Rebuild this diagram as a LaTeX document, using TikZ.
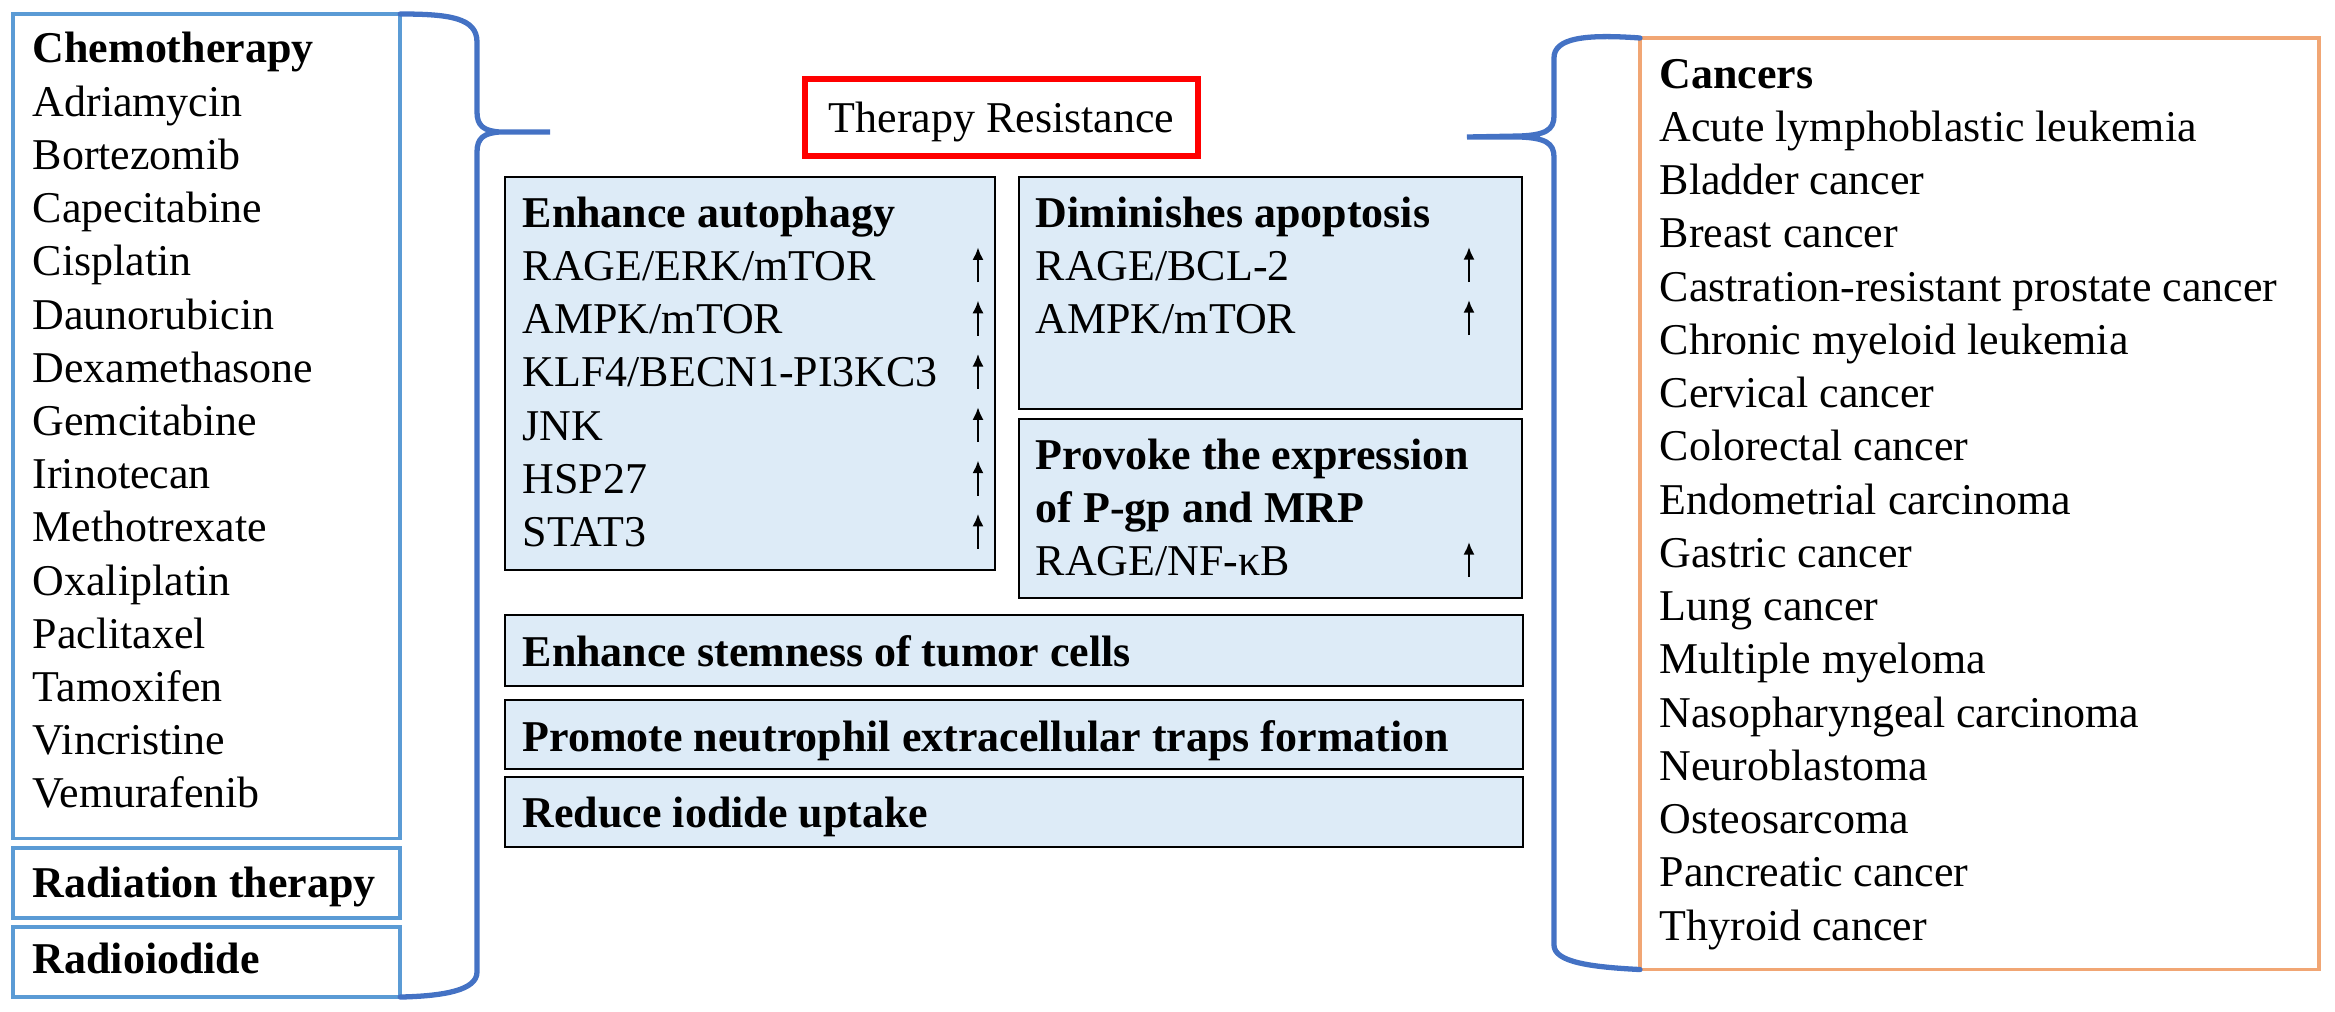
\documentclass[tikz,border=0pt]{standalone}
\usepackage{fontspec}
\setmainfont{Liberation Serif}
\usetikzlibrary{arrows.meta}

\definecolor{boxblue}{RGB}{91,155,213}
\definecolor{braceblue}{RGB}{68,114,196}
\definecolor{lightfill}{RGB}{221,235,247}
\definecolor{cancerorange}{RGB}{241,166,116}

\tikzset{
  txt/.style={anchor=base west, inner sep=0pt, font=\fontsize{12.5}{15}\selectfont},
  head/.style={txt, font=\fontsize{12.5}{15}\selectfont\bfseries},
  frame/.style={anchor=north west, inner sep=0pt, outer sep=0pt},
  therapybox/.style={frame, draw=boxblue, line width=1pt},
  mechbox/.style={frame, fill=lightfill, draw=black, line width=0.6pt},
  brace/.style={draw=braceblue, line width=1.5pt, line cap=round},
  uparrow/.style={-{Latex[length=3.6pt,width=3.2pt]}, line width=0.7pt}
}

\begin{document}
\begin{tikzpicture}[x=0.01cm, y=-0.01cm]
  \useasboundingbox (0,0) rectangle (2335,1012);

  % treatments on the left
  \node[therapybox, minimum width=3.87cm, minimum height=8.24cm] (chemo) at (13,14) {};
  \node[therapybox, minimum width=3.87cm, minimum height=0.70cm] (radiation) at (13,848) {};
  \node[therapybox, minimum width=3.87cm, minimum height=0.70cm] (iodide) at (13,927) {};
  \node[head] (chemohead) at (32,63) {Chemotherapy};
  \foreach \drug [count=\i] in {Adriamycin, Bortezomib, Capecitabine, Cisplatin,
      Daunorubicin, Dexamethasone, Gemcitabine, Irinotecan, Methotrexate,
      Oxaliplatin, Paclitaxel, Tamoxifen, Vincristine, Vemurafenib}
    \node[txt] (drug\i) at (32,{63+53.2*\i}) {\drug};
  \node[head] (radhead) at (32,897) {Radiation therapy};
  \node[head] (iodhead) at (32,973) {Radioiodide};

  % title
  \node[frame, draw=red, line width=1.6pt, minimum width=3.93cm, minimum height=0.77cm,
    text depth=0pt, font=\fontsize{12.5}{15}\selectfont] (resist) at (805,79) {Therapy Resistance};

  % mechanisms
  \node[mechbox, minimum width=4.90cm, minimum height=3.93cm] (autophagy) at (505,177) {};
  \node[mechbox, minimum width=5.03cm, minimum height=2.32cm] (apoptosis) at (1019,177) {};
  \node[mechbox, minimum width=5.03cm, minimum height=1.79cm] (efflux) at (1019,419) {};
  \node[mechbox, minimum width=10.17cm, minimum height=0.71cm] (stemness) at (505,615) {};
  \node[mechbox, minimum width=10.17cm, minimum height=0.69cm] (nets) at (505,700) {};
  \node[mechbox, minimum width=10.17cm, minimum height=0.70cm] (uptake) at (505,777) {};

  \node[head] (autohead) at (522,227) {Enhance autophagy};
  \foreach \route [count=\i] in {RAGE/ERK/mTOR, AMPK/mTOR, KLF4/BECN1-PI3KC3, JNK, HSP27, STAT3} {
    \node[txt] (auto\i) at (522,{227+53.3*\i}) {\route};
    \draw[uparrow] (978,{229+53.3*\i}) -- ++(0,-35);
  }
  \node[head] (apohead) at (1035,227) {Diminishes apoptosis};
  \node[txt] (apo1) at (1035,280) {RAGE/BCL-2};
  \node[txt] (apo2) at (1035,333) {AMPK/mTOR};
  \draw[uparrow] (1469,282) -- ++(0,-35);
  \draw[uparrow] (1469,335) -- ++(0,-35);
  \node[head] (effhead) at (1035,469) {Provoke the expression};
  \node[head] (effhead2) at (1035,522) {of P-gp and MRP};
  \node[txt] (eff1) at (1035,575) {RAGE/NF-κB};
  \draw[uparrow] (1469,577) -- ++(0,-35);
  \node[head] (stemhead) at (522,666) {Enhance stemness of tumor cells};
  \node[head] (netshead) at (522,751) {Promote neutrophil extracellular traps formation};
  \node[head] (uptakehead) at (522,827) {Reduce iodide uptake};

  % cancers on the right
  \node[frame, draw=cancerorange, line width=1.1pt, minimum width=6.79cm, minimum height=9.31cm] (cancers) at (1640,38) {};
  \node[head] (cancerhead) at (1659,88) {Cancers};
  \foreach \tumor [count=\i] in {Acute lymphoblastic leukemia, Bladder cancer, Breast cancer,
      Castration-resistant prostate cancer, Chronic myeloid leukemia, Cervical cancer,
      Colorectal cancer, Endometrial carcinoma, Gastric cancer, Lung cancer,
      Multiple myeloma, Nasopharyngeal carcinoma, Neuroblastoma, Osteosarcoma,
      Pancreatic cancer, Thyroid cancer}
    \node[txt] (tumor\i) at (1659,{88+53.25*\i}) {\tumor};

  % braces
  \coordinate (ltip) at (550,132);
  \coordinate (rtip) at (1467,137);
  \draw[brace] (chemo.north east) .. controls (450,14) and (477,18) .. (477,42) -- (477,112)
    .. controls (477,126) and (484,131) .. (500,132) -- (ltip) -- (500,132)
    .. controls (484,133) and (477,138) .. (477,152) -- (477,972)
    .. controls (477,990) and (445,996) .. (iodide.south east);
  \draw[brace] (cancers.north west) .. controls (1585,34) and (1554,38) .. (1554,58) -- (1554,116)
    .. controls (1554,130) and (1545,135) .. (1520,136) -- (rtip) -- (1520,137)
    .. controls (1545,138) and (1554,143) .. (1554,157) -- (1554,945)
    .. controls (1554,962) and (1590,967) .. (cancers.south west);
\end{tikzpicture}
\end{document}
